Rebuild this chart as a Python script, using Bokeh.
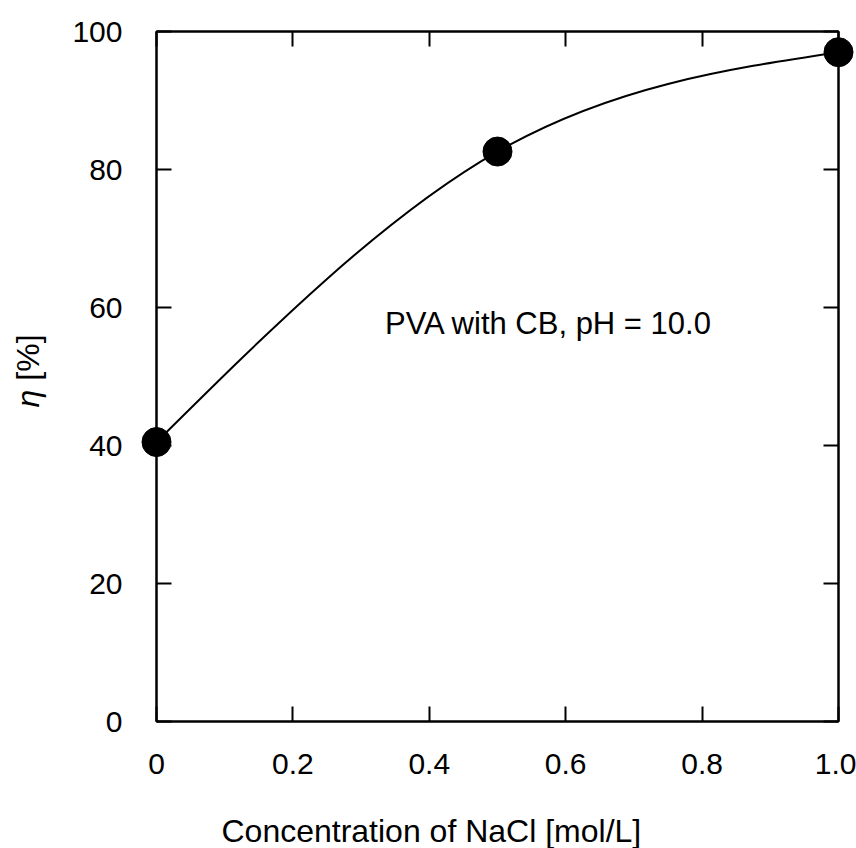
import numpy as np
from bokeh.plotting import figure
from bokeh.models import LinearAxis, FixedTicker, Label, Range1d, ColumnDataSource
from bokeh.core.properties import value
from bokeh.embed import file_html
from bokeh.resources import INLINE

# data
nacl = [0.0, 0.5, 1.0]
eta = [40.5, 82.6, 97.0]
x_ticks = [0, 0.2, 0.4, 0.6, 0.8, 1.0]
x_tick_labels = ["0", "0.2", "0.4", "0.6", "0.8", "1.0"]
y_ticks = [0, 20, 40, 60, 80, 100]
annotation = "PVA with CB, pH = 10.0"
x_title = "Concentration of NaCl [mol/L]"
y_title_symbol = "η"
y_title_unit = "[%]"

FONT = "Liberation Sans"
FS = "30px"
TITLE_FS = "32px"

p = figure(width=856, height=848, output_backend="svg", toolbar_location=None,
           x_range=Range1d(0, 1), y_range=Range1d(0, 100),
           min_border_left=156, min_border_right=18, min_border_top=31, min_border_bottom=127,
           x_axis_location=None, y_axis_location=None)
p.grid.visible = False
p.outline_line_color = "black"
p.outline_line_width = 2
p.background_fill_color = "white"
p.border_fill_color = "white"

def style_axis(ax, labels=True):
    ax.axis_line_color = "black"
    ax.axis_line_width = 2
    ax.major_tick_in = 15
    ax.major_tick_out = 0
    ax.major_tick_line_width = 2
    ax.minor_tick_line_color = None
    ax.major_label_text_font = FONT
    ax.major_label_text_font_size = FS
    ax.major_label_text_color = "black"
    if not labels:
        ax.major_label_text_font_size = "0px"
        ax.major_label_text_alpha = 0

xb = LinearAxis(ticker=FixedTicker(ticks=x_ticks))
style_axis(xb)
xb.major_label_overrides = {t: l for t, l in zip(x_ticks, x_tick_labels)}
xb.major_label_standoff = 32
p.add_layout(xb, "below")

xt = LinearAxis(ticker=FixedTicker(ticks=x_ticks))
style_axis(xt, labels=False)
p.add_layout(xt, "above")

yl = LinearAxis(ticker=FixedTicker(ticks=y_ticks))
style_axis(yl)
yl.major_label_standoff = 34
p.add_layout(yl, "left")

yr = LinearAxis(ticker=FixedTicker(ticks=y_ticks))
style_axis(yr, labels=False)
p.add_layout(yr, "right")

# smooth curve: natural cubic spline through the points, drawn as Bezier segments
x = np.array(nacl); y = np.array(eta)
n = len(x)
h = np.diff(x)
A = np.zeros((n, n)); b = np.zeros(n)
A[0, 0] = 1; A[-1, -1] = 1
for i in range(1, n - 1):
    A[i, i - 1] = h[i - 1]; A[i, i] = 2 * (h[i - 1] + h[i]); A[i, i + 1] = h[i]
    b[i] = 6 * ((y[i + 1] - y[i]) / h[i] - (y[i] - y[i - 1]) / h[i - 1])
M = np.linalg.solve(A, b)
m0 = (y[1:] - y[:-1]) / h - h * (2 * M[:-1] + M[1:]) / 6
m1 = (y[1:] - y[:-1]) / h + h * (M[:-1] + 2 * M[1:]) / 6
src = ColumnDataSource(dict(
    x0=x[:-1], y0=y[:-1], x1=x[1:], y1=y[1:],
    cx0=x[:-1] + h / 3, cy0=y[:-1] + h / 3 * m0,
    cx1=x[1:] - h / 3, cy1=y[1:] - h / 3 * m1))
p.bezier(x0="x0", y0="y0", x1="x1", y1="y1", cx0="cx0", cy0="cy0", cx1="cx1", cy1="cy1",
         source=src, line_color="black", line_width=2)

pts = p.scatter(nacl, eta, marker="circle", size=29, fill_color="black", line_color="black")
pts.level = "overlay"

p.add_layout(Label(x=0.335, y=57.7, text=annotation, text_font=FONT, text_font_size="31px",
                   text_baseline="middle", text_align="left", text_color="black"))

# axis titles as unclipped overlay text glyphs (x title sits left of the frame centre)
t1 = p.text(x=[0.403], y=[-15.8], text=[x_title], text_font=value(FONT),
            text_font_size=value(TITLE_FS), text_align="center", text_baseline="middle",
            text_color="black")
t1.level = "overlay"
t2 = p.text(x=[-0.189], y=[45.5], text=[y_title_symbol], angle=np.pi / 2,
            text_font=value(FONT), text_font_size=value(TITLE_FS), text_font_style="italic",
            text_align="left", text_baseline="middle", text_color="black")
t2.level = "overlay"
t3 = p.text(x=[-0.189], y=[49.4], text=[y_title_unit], angle=np.pi / 2,
            text_font=value(FONT), text_font_size=value(TITLE_FS),
            text_align="left", text_baseline="middle", text_color="black")
t3.level = "overlay"

open("out.html", "w").write(file_html(p, INLINE))
